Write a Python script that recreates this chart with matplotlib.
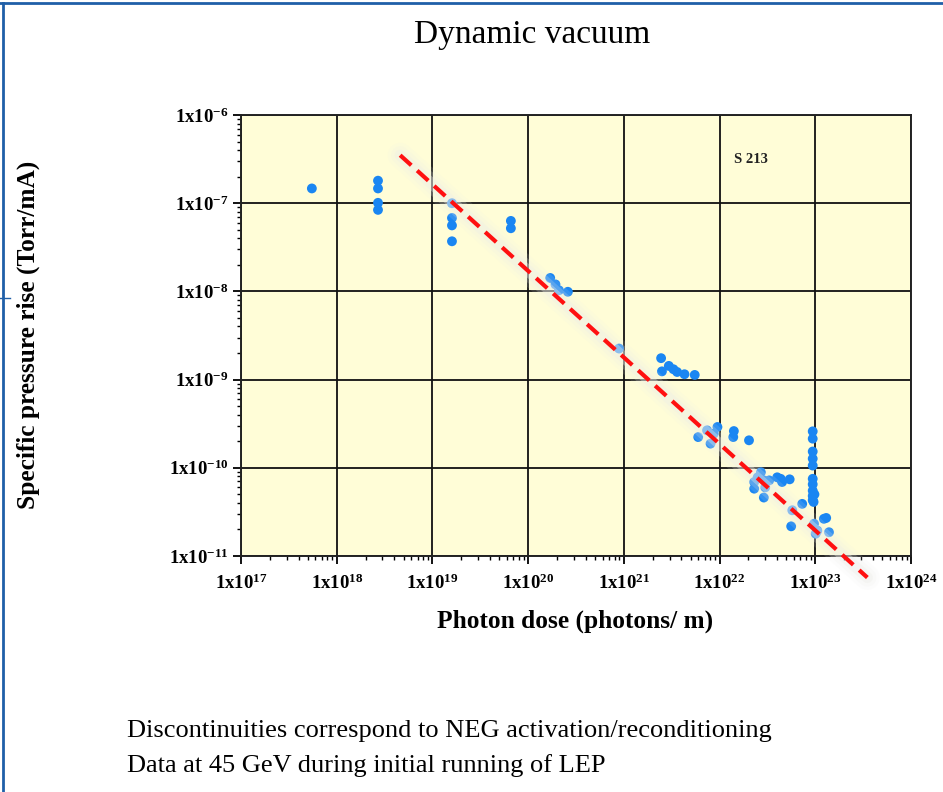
import numpy as np
import matplotlib
matplotlib.use("Agg")
import matplotlib.pyplot as plt
from matplotlib.ticker import LogLocator, FuncFormatter, NullFormatter
from matplotlib.lines import Line2D

plt.rcParams['font.family'] = ['Liberation Serif', 'DejaVu Serif']
plt.rcParams['mathtext.fontset'] = 'custom'
plt.rcParams['mathtext.rm'] = 'Liberation Serif'
plt.rcParams['mathtext.bf'] = 'Liberation Serif:bold'

# Data
dose = [5.5e17,
        2.7e18, 2.7e18, 2.7e18, 2.7e18,
        1.6e19, 1.6e19, 1.6e19, 1.6e19,
        6.6e19, 6.6e19,
        1.7e20, 1.93e20, 2.1e20, 2.6e20,
        8.9e20,
        2.45e21, 2.5e21, 2.95e21, 3.3e21, 3.6e21, 4.3e21, 5.5e21,
        5.98e21, 7.4e21, 8.05e21, 9.5e21, 8.7e21, 1.41e22, 1.39e22, 2.03e22,
        2.7e22, 2.5e22, 2.3e22, 2.3e22, 2.9e22, 3.0e22, 2.9e22, 3.3e22,
        4.0e22, 4.5e22, 4.35e22, 5.4e22, 5.75e22, 5.6e22, 7.3e22,
        9.4e22, 9.4e22, 9.4e22, 9.4e22, 9.4e22, 9.4e22, 9.4e22, 9.4e22,
        9.4e22, 9.4e22, 9.8e22, 9.6e22,
        9.7e22, 1.05e23, 1.23e23, 1.3e23, 1.39e23, 1.01e23]
pressure = [1.47e-7,
            1.8e-7, 1.47e-7, 1.01e-7, 8.4e-8,
            1.0e-7, 6.8e-8, 5.6e-8, 3.7e-8,
            6.3e-8, 5.2e-8,
            1.42e-8, 1.2e-8, 1.03e-8, 9.9e-9,
            2.25e-9,
            1.75e-9, 1.24e-9, 1.43e-9, 1.31e-9, 1.22e-9, 1.15e-9, 1.13e-9,
            2.23e-10, 2.66e-10, 1.88e-10, 2.9e-10, 2.44e-10, 2.61e-10, 2.23e-10, 2.05e-10,
            8.9e-11, 7.8e-11, 6.9e-11, 5.8e-11, 7.2e-11, 6.0e-11, 4.6e-11, 7.2e-11,
            7.8e-11, 6.9e-11, 7.5e-11, 7.4e-11, 3.3e-11, 2.17e-11, 3.9e-11,
            2.59e-10, 2.14e-10, 1.53e-10, 1.27e-10, 1.06e-10, 7.5e-11, 6.5e-11, 5.5e-11,
            4.8e-11, 4.3e-11, 5.0e-11, 4.1e-11,
            2.32e-11, 1.94e-11, 2.64e-11, 2.7e-11, 1.86e-11, 1.79e-11]

fit_x = [4.6e18, 3.5e23]
fit_y = [3.5e-7, 5.7e-12]

fig = plt.figure(figsize=(9.43, 7.92), dpi=100)
ax = fig.add_axes([241/943, 1 - 556/792, 670/943, 441/792])
ax.set_facecolor('#FFFDD7')

ax.set_xscale('log')
ax.set_yscale('log')
ax.set_xlim(1e17, 1e24)
ax.set_ylim(1e-11, 1e-6)

ax.grid(True, which='major', color='#111111', lw=1.3)
ax.set_axisbelow(True)

ax.scatter(dose, pressure, s=50, color='#1A86F2', edgecolors='none', zorder=3)

# soft glow behind the fit line
for lw, a in [(18, 0.12), (13, 0.2), (8, 0.35)]:
    ax.plot(fit_x, fit_y, color='#EDEDE8', lw=lw, alpha=a, solid_capstyle='round',
            zorder=4, clip_on=False)
ax.plot(fit_x, fit_y, color='#FF1010', lw=3, ls=(0, (3.6, 1.9)), zorder=5, clip_on=False)

ax.text(1.4e22, 3.1e-7, 'S 213', fontsize=10.5, fontweight='bold', color='#222222',
        va='center', ha='left')

def fmt(v, pos):
    e = int(round(np.log10(v)))
    return r'$\mathbf{1x10^{%d}}$' % e

ax.xaxis.set_major_locator(LogLocator(base=10, numticks=20))
ax.yaxis.set_major_locator(LogLocator(base=10, numticks=20))
ax.xaxis.set_minor_locator(LogLocator(base=10, subs=np.arange(2, 10), numticks=20))
ax.yaxis.set_minor_locator(LogLocator(base=10, subs=np.arange(2, 10), numticks=20))
ax.xaxis.set_major_formatter(FuncFormatter(fmt))
ax.yaxis.set_major_formatter(FuncFormatter(fmt))
ax.xaxis.set_minor_formatter(NullFormatter())
ax.yaxis.set_minor_formatter(NullFormatter())

ax.tick_params(which='major', direction='out', length=6, width=1.3, labelsize=13.5, color='black')
ax.tick_params(which='minor', direction='out', length=3, width=1.0, color='black')
ax.tick_params(axis='x', which='major', pad=7)
ax.tick_params(axis='y', which='major', pad=3)

for s in ax.spines.values():
    s.set_color('#222222')
    s.set_linewidth(1.4)

fig.text(532/943, 1 - 35/792, 'Dynamic vacuum', fontsize=24, ha='center', va='center')
fig.text(28/943, 1 - 335/792, 'Specific pressure rise (Torr/mA)', fontsize=18.3,
         fontweight='bold', rotation=90, ha='center', va='center')
fig.text(575/943, 1 - 621/792, 'Photon dose (photons/ m)', fontsize=18.3,
         fontweight='bold', ha='center', va='center')
fig.text(127/943, 1 - 737/792, 'Discontinuities correspond to NEG activation/reconditioning',
         fontsize=19, ha='left', va='baseline')
fig.text(127/943, 1 - 772/792, 'Data at 45 GeV during initial running of LEP',
         fontsize=19, ha='left', va='baseline')

# slide frame lines
frame = '#1F5FA8'
fig.add_artist(Line2D([0, 1], [1 - 3/792, 1 - 3/792], color=frame, lw=2))
fig.add_artist(Line2D([3/943, 3/943], [0, 1 - 3/792], color=frame, lw=2))
fig.add_artist(Line2D([0, 10/943], [1 - 298/792, 1 - 298/792], color=frame, lw=1))

fig.savefig('out.png', dpi=100)
